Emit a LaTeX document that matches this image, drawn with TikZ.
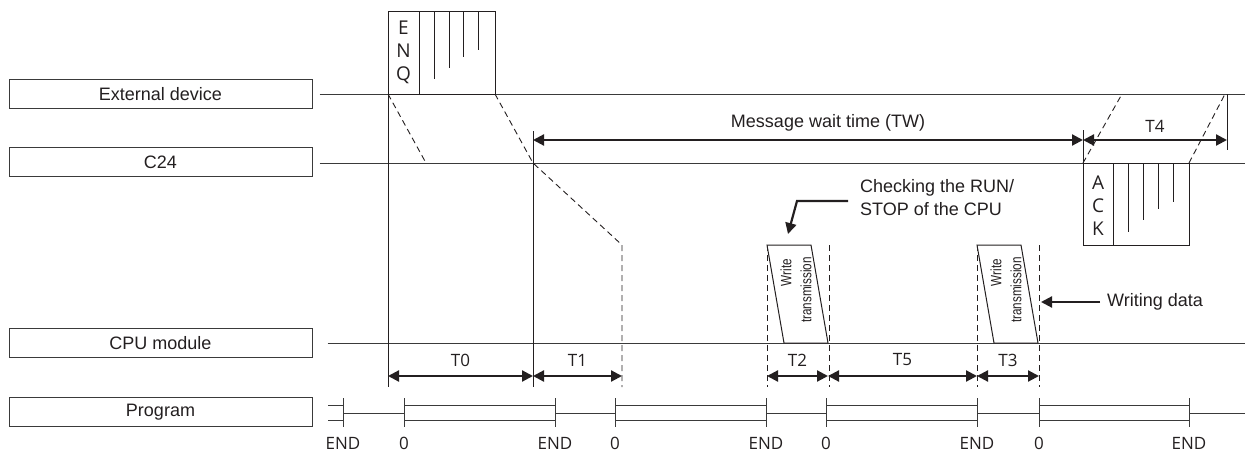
\documentclass[tikz,border=0pt]{standalone}
\usepackage{fontspec}
\setmainfont{Liberation Sans}
\newfontfamily\tcfont{Open Sans}
\newfontfamily\tccond[FakeStretch=0.78]{Liberation Sans}
\usetikzlibrary{arrows.meta,positioning}
\definecolor{tcink}{HTML}{231F20}
\definecolor{tcline}{HTML}{3A3A3A}
\tikzset{
  lane/.style={draw=tcline,line width=1pt,minimum width=303pt,minimum height=29pt,inner sep=0pt,
    font=\fontsize{18}{21}\selectfont,text=tcink},
  axis/.style={draw=tcline,line width=1pt},
  frame/.style={draw=tcink,line width=1pt},
  dline/.style={draw=tcink,line width=0.9pt,dash pattern=on 6pt off 4pt},
  span/.style={{Triangle[length=11pt,width=11pt]}-{Triangle[length=11pt,width=11pt]},line width=2.2pt,draw=tcink},
  callout/.style={-{Triangle[length=11pt,width=11pt]},line width=2.2pt,draw=tcink},
  tlabel/.style={font=\tcfont\fontsize{17}{23}\selectfont,text=tcink,inner sep=0pt,align=center},
  letters/.style={tlabel,font=\tcfont\fontsize{19}{23}\selectfont},
  note/.style={font=\fontsize{18}{23}\selectfont,text=tcink,inner sep=0pt,align=left},
  wtext/.style={font=\tccond\fontsize{15}{15}\selectfont,text=tcink,rotate=90,anchor=east,inner sep=0pt}
}
\begin{document}
\begin{tikzpicture}[x=1pt,y=-1pt]
  \useasboundingbox (0,0) rectangle (1245,452);
  \coordinate (edge) at (1245,0);
  % lanes
  \node[lane] (ext) at (160.5,94) {External device};
  \node[lane] (c24) at (160.5,162) {C24};
  \node[lane] (cpu) at (160.5,343) {CPU module};
  \node[lane] (prog) at (160.5,412) {Program};
  \draw[axis] ([xshift=7pt]ext.east) -- (ext.east -| edge);
  \draw[axis] ([xshift=7pt]c24.east |- 0,163) -- (edge |- 0,163);
  \draw[axis] ([xshift=15pt]cpu.east) -- (cpu.east -| edge);

  % ENQ
  \draw[frame] (388,12) rectangle (495,94);
  \draw[frame] (419,12) -- (419,94);
  \foreach \x/\y in {434/79,449/68,463/57,478/50}
    \draw[frame] (\x,12) -- (\x,\y);
  \node[letters] (enq) at (403.5,52) {E\\N\\Q};
  \draw[dline] (388,94) -- (426,163);
  \draw[dline] (495,94) -- (533,163) -- (622,245) -- (622,387);
  \draw[frame] (388,94) -- (388,387);
  \draw[frame] (533,131) -- (533,387);

  % message wait time
  \draw[span] (533,140) -- (1083,140);
  \node[note] (tw) at (828,123) {Message wait time (TW)};
  \draw[span] (1083,140) -- (1227,140);
  \node[tlabel] (t4) at (1155,126) {T4};
  \draw[frame] (1083,130) -- (1083,163);
  \draw[frame] (1227,94) -- (1227,150);

  % ACK
  \draw[frame] (1083,163) rectangle (1189,245);
  \draw[frame] (1113,163) -- (1113,245);
  \foreach \x/\y in {1128/232,1143/220,1158/209,1173/202}
    \draw[frame] (\x,163) -- (\x,\y);
  \node[letters] (ack) at (1098,206) {A\\C\\K};
  \draw[dline] (1083,163) -- (1122,94);
  \draw[dline] (1189,163) -- (1225,94);

  % write transmission
  \foreach \x in {767,977} {
    \draw[dline] (\x,245) -- (\x,387);
    \draw[dline] (\x+62,245) -- (\x+62,387);
    \draw[frame,fill=white] (\x,245) -- (\x+44,245) -- (\x+61,343) -- (\x+17,343) -- cycle;
    \node[wtext] at (\x+19,259) {Write};
    \node[wtext] at (\x+39,257) {transmission};
  }
  \node[note,anchor=west] (chk) at (860,198) {Checking the RUN/\\STOP of the CPU};
  \coordinate (chktip) at (788,234);
  \draw[callout] ([xshift=-12pt]chk.west |- 0,201) -- (797,201) -- (chktip);
  \node[note,anchor=west] (wdat) at (1107,302) {Writing data};
  \coordinate (wdtip) at (1041,302);
  \draw[callout] ([xshift=-7pt]wdat.west) -- (wdtip);

  % T0 .. T5
  \draw[span] (388,376) -- (533,376);
  \draw[span] (533,376) -- (622,376);
  \draw[span] (767,376) -- (828,376);
  \draw[span] (828,376) -- (977,376);
  \draw[span] (977,376) -- (1039,376);
  \node[tlabel] (t0) at (460.5,360) {T0};
  \node[tlabel] (t1) at (577.5,360) {T1};
  \node[tlabel] (t2) at (797.5,360) {T2};
  \node[tlabel] (t5) at (902.5,360) {T5};
  \node[tlabel] (t3) at (1008,360) {T3};

  % program scan
  \foreach \a/\b in {328/343,404/555,615/766,826/977,1039/1189} {
    \draw[axis] (\a,405) -- (\b,405);
    \draw[axis] (\a,420) -- (\b,420);
  }
  \foreach \a/\b in {343/404,555/615,766/826,977/1039,1189/1245}
    \draw[axis] (\a,413) -- (\b,413);
  \foreach \x in {343,555,766,977,1189} {
    \draw[axis] (\x,398) -- (\x,427);
    \node[tlabel] at (\x,443) {END};
  }
  \foreach \x in {404,615,826,1039} {
    \draw[axis] (\x,398) -- (\x,427);
    \node[tlabel] at (\x,443) {0};
  }
\end{tikzpicture}
\end{document}
